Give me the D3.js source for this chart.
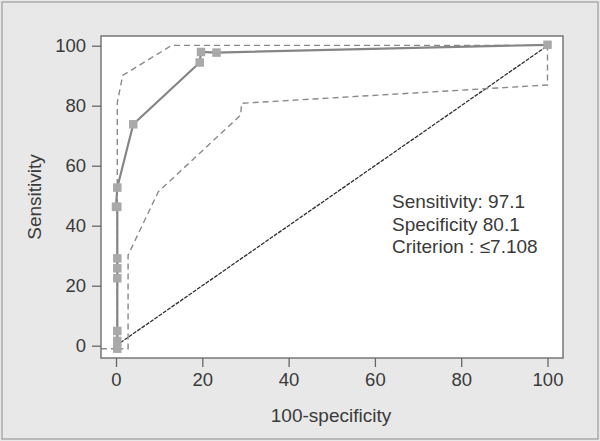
<!DOCTYPE html>
<html>
<head>
<meta charset="utf-8">
<script src="https://cdn.jsdelivr.net/npm/d3@7"></script>
<style>
  body { margin: 0; background: #e8e8e8; }
  text { font-family: "Liberation Sans", Arial, sans-serif; fill: #3a3a3a; }
</style>
</head>
<body>
<svg id="canvas" width="600" height="441"></svg>
<script>
// ROC points (100-specificity, sensitivity)
const rocX = [0.3, 0.3, 0.3, 0.3, 0.3, 0.3, 0.3, 0.0, 0.3, 4.0, 19.4, 19.7, 23.3, 100];
const rocY = [-1.0, 1.6, 4.9, 22.5, 25.8, 29.1, 46.3, 46.3, 52.7, 73.8, 94.4, 97.9, 97.7, 100.3];

// confidence bounds
const upperX = [-3.5, 0.3, 0.3, 1.55, 12.9, 100];
const upperY = [-1.0, -1.0, 81, 90.1, 100.1, 100.1];
const lowerX = [0.3, 2.8, 2.8, 9.8, 28.9, 29.1, 100, 100];
const lowerY = [-1.0, -1.0, 30.2, 51.3, 76.9, 80.8, 86.9, 100.1];

// reference diagonal
const diagX = [0, 100];
const diagY = [0, 100];

const xTicks = [0, 20, 40, 60, 80, 100];
const yTicks = [0, 20, 40, 60, 80, 100];

const notes = ['Sensitivity: 97.1', 'Specificity 80.1', 'Criterion : \u22647.108'];

const svg = d3.select('#canvas');

const frame = { left: 101, right: 563, top: 36, bottom: 358 };

const x = d3.scaleLinear().domain([0, 100]).range([116, 547.5]);
const y = d3.scaleLinear().domain([0, 100]).range([345.7, 45.7]);

// outer panel
svg.append('rect')
  .attr('x', 2).attr('y', 2)
  .attr('width', 596).attr('height', 437)
  .attr('fill', '#e8e8e8')
  .attr('stroke', '#9a9a9a')
  .attr('stroke-width', 1.2);

svg.append('defs').append('clipPath').attr('id', 'clip')
  .append('rect')
  .attr('x', frame.left).attr('y', frame.top)
  .attr('width', frame.right - frame.left)
  .attr('height', frame.bottom - frame.top);

svg.append('rect')
  .attr('x', frame.left).attr('y', frame.top)
  .attr('width', frame.right - frame.left)
  .attr('height', frame.bottom - frame.top)
  .attr('fill', '#ffffff');

const toPts = (xs, ys) => xs.map((v, i) => [v, ys[i]]);

const line = d3.line()
  .x((d) => x(d[0]))
  .y((d) => y(d[1]));

const plot = svg.append('g').attr('clip-path', 'url(#clip)');

plot.append('path')
  .attr('d', line(toPts(diagX, diagY)))
  .attr('fill', 'none')
  .attr('stroke', '#2e2e2e')
  .attr('stroke-width', 1.3)
  .attr('stroke-dasharray', '4,1.2');

[toPts(upperX, upperY), toPts(lowerX, lowerY)].forEach((pts) => {
  plot.append('path')
    .attr('d', line(pts))
    .attr('fill', 'none')
    .attr('stroke', '#8a8a8a')
    .attr('stroke-width', 1.4)
    .attr('stroke-dasharray', '6,4');
});

const roc = toPts(rocX, rocY);

plot.append('path')
  .attr('d', line(roc))
  .attr('fill', 'none')
  .attr('stroke', '#858585')
  .attr('stroke-width', 2.2);

svg.selectAll('rect.pt')
  .data(roc)
  .enter()
  .append('rect')
  .attr('class', 'pt')
  .attr('x', (d) => x(d[0]) - 4.25)
  .attr('y', (d) => y(d[1]) - 4.25)
  .attr('width', 8.5)
  .attr('height', 8.5)
  .attr('fill', '#a9a9a9');

// frame
svg.append('rect')
  .attr('x', frame.left).attr('y', frame.top)
  .attr('width', frame.right - frame.left)
  .attr('height', frame.bottom - frame.top)
  .attr('fill', 'none')
  .attr('stroke', '#777')
  .attr('stroke-width', 1.5);

const xAxis = svg.append('g')
  .attr('transform', 'translate(0,' + frame.bottom + ')')
  .call(d3.axisBottom(x).tickValues(xTicks).tickSize(9).tickPadding(6));

const yAxis = svg.append('g')
  .attr('transform', 'translate(' + frame.left + ',0)')
  .call(d3.axisLeft(y).tickValues(yTicks).tickSize(9).tickPadding(6));

[xAxis, yAxis].forEach((ax) => {
  ax.select('.domain').remove();
  ax.selectAll('line').attr('stroke', '#666').attr('stroke-width', 1.3);
  ax.selectAll('text')
    .attr('fill', '#3a3a3a')
    .style('font-size', '18.5px')
    .style('font-family', '"Liberation Sans", Arial, sans-serif');
});

svg.append('text')
  .attr('x', 331)
  .attr('y', 421.5)
  .attr('text-anchor', 'middle')
  .style('font-size', '19px')
  .text('100-specificity');

svg.append('text')
  .attr('transform', 'translate(41,197) rotate(-90)')
  .attr('text-anchor', 'middle')
  .style('font-size', '19px')
  .text('Sensitivity');

svg.selectAll('text.note')
  .data(notes)
  .enter()
  .append('text')
  .attr('class', 'note')
  .attr('x', 392)
  .attr('y', (d, i) => 208 + i * 22.5)
  .style('font-size', '19px')
  .text((d) => d);
</script>
</body>
</html>
